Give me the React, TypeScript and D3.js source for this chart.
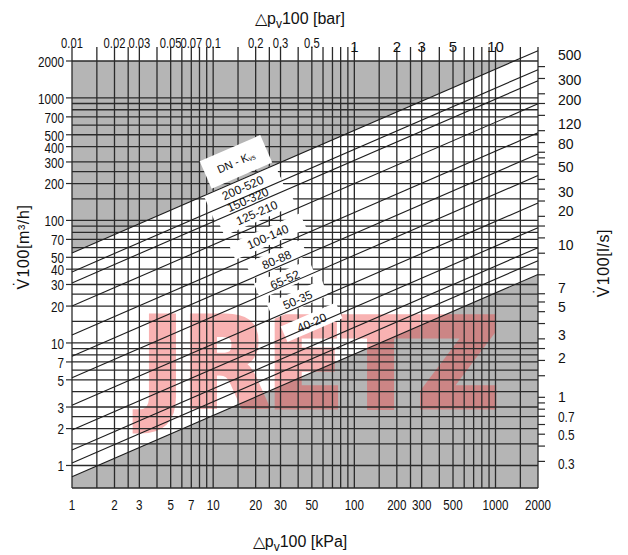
import React from "react";
import * as d3 from "d3";

const W = 628;
const H = 555;

// ---- data ----
// Kvs of the drawn characteristic lines (m³/h at Δp = 1 bar)
const kvsLines = [543, 380, 309, 200, 116, 78, 52, 31, 19.5, 13.4, 10.5, 8.1];
const upperLimitKvs = 543;
const lowerLimitKvs = 8.1;

const gridSteps = [1, 1.5, 2, 2.5, 3, 4, 5, 6, 7, 8, 9];
const xDecades = [1, 10, 100, 1000];
const yDecades = [1, 10, 100];
const yExtraGrid = [1000, 2000];

const kPaTicks = [1, 2, 3, 5, 7, 10, 20, 30, 50, 100, 200, 300, 500, 1000, 2000];
const barTicks = [0.01, 0.02, 0.03, 0.05, 0.07, 0.1, 0.2, 0.3, 0.5, 1, 2, 3, 5, 10];
const m3hTicks = [2000, 1000, 700, 500, 400, 300, 200, 100, 70, 50, 40, 30, 20, 10, 7, 5, 3, 2, 1];
const lsLabels = [500, 300, 200, 120, 80, 50, 30, 20, 10, 7, 5, 3, 2, 1, 0.7, 0.5, 0.3];
const lsTicks = [500, 400, 300, 250, 200, 150, 120, 100, 90, 80, 60, 50, 40, 30, 25, 20, 15, 10,
  7, 6, 5, 4, 3, 2.5, 2, 1.5, 1, 0.9, 0.8, 0.7, 0.6, 0.5, 0.4, 0.3];
// right label positions in the original drift from the ticks: anchor values
const lsLabelAnchors = [0.3, 7, 10, 500];

// curve labels, anchored in data space (kPa, m³/h)
const curveLabelText = ["200-520", "150-320", "125-210", "100-140", "80-88", "65-52", "50-35", "40-20"];
const curveLabelDp = [16.2, 17.6, 20.4, 24.4, 28.2, 32.2, 39.7, 50];
const curveLabelQ = [184, 147, 115, 73.3, 47.6, 32.7, 22.4, 14.6];
const headerDp = 14.5;
const headerQ = 300;

const flow = (kvs: number, dpKPa: number) => kvs * Math.sqrt(dpKPa / 100);

function NarrowText(props: {
  x: number;
  y: number;
  children: React.ReactNode;
  size: number;
  anchor?: "start" | "middle" | "end";
  squeeze?: number;
}) {
  const { x, y, children, size, anchor = "middle", squeeze = 0.8 } = props;
  return (
    <g transform={`translate(${x},${y}) scale(${squeeze},1)`}>
      <text x={0} y={0} textAnchor={anchor} dominantBaseline="central" fontSize={size} fill="#111">
        {children}
      </text>
    </g>
  );
}

function DotV({ size }: { size: number }) {
  // "V" with a dot above
  const vW = size * 0.667;
  const dW = size * 0.333;
  const start = vW / 2 - dW / 2;
  return (
    <>
      <tspan>V</tspan>
      <tspan dx={start - vW} dy={-size * 0.28}>˙</tspan>
      <tspan dx={vW - (start + dW)} dy={size * 0.28}>100</tspan>
    </>
  );
}

export default function App() {
  const x = d3.scaleLog().domain([1, 2000]).range([72, 538]);
  const y = d3.scaleLog().domain([0.655, 2000]).range([488, 61]);
  const yLs = (ls: number) => y(ls * 3.6);
  const yLsLabel = d3.scaleLog().domain(lsLabelAnchors).range([464, 288, 245, 55]);

  const x0 = x(1);
  const x1 = x(2000);
  const yBottom = y(0.655);
  const yTopBorder = y(2000);
  const yTopExt = yTopBorder - 14;

  const xGrid = xDecades.flatMap((d) => gridSteps.map((s) => s * d)).filter((v) => v <= 2000);
  const yGrid = yDecades.flatMap((d) => gridSteps.map((s) => s * d)).concat(yExtraGrid);

  const line = d3.line<[number, number]>();
  const dpEnds = [1, 2000];

  const angle = (Math.atan2(y(Math.sqrt(10)) - y(1), x(10) - x(1)) * 180) / Math.PI;

  // gray regions
  const dpCross = 100 * Math.pow(2000 / upperLimitKvs, 2);
  const upperGray = line([
    [x0, yTopBorder],
    [x0, y(flow(upperLimitKvs, 1))],
    [x(dpCross), yTopBorder],
  ]);
  const lowerGray = line([
    [x0, y(flow(lowerLimitKvs, 1))],
    [x1, y(flow(lowerLimitKvs, 2000))],
    [x1, yBottom],
    [x0, yBottom],
  ]);

  const stroke = "#2a2a2a";
  const sans = "'Liberation Sans', Arial, sans-serif";

  return (
    <svg
      width={W}
      height={H}
      viewBox={`0 0 ${W} ${H}`}
      style={{ position: "absolute", left: 0, top: 0, background: "#fff" }}
      fontFamily={sans}
    >
      <rect x={0} y={0} width={W} height={H} fill="#fff" />
      {/* gray regions */}
      <path d={upperGray ?? ""} fill="#b5b5b5" />
      <path d={lowerGray ?? ""} fill="#b5b5b5" />

      {/* watermark */}
      <g opacity={0.4}>
        <text
          x={142}
          y={406}
          fontSize={122}
          fontWeight="bold"
          fontFamily="'DejaVu Sans', sans-serif"
          textLength={356}
          lengthAdjust="spacingAndGlyphs"
          fill="#f04040"
          stroke="#f04040"
          strokeWidth={7}
          strokeLinejoin="miter"
        >
          JRETZ
        </text>
      </g>

      {/* vertical grid */}
      {xGrid.map((v) => (
        <line key={"vx" + v} x1={x(v)} x2={x(v)} y1={yTopExt} y2={yBottom} stroke={stroke} strokeWidth={1.3} />
      ))}
      {/* horizontal grid */}
      {yGrid.map((v) => (
        <line key={"hy" + v} x1={x0} x2={x1} y1={y(v)} y2={y(v)} stroke={stroke} strokeWidth={1.3} />
      ))}
      <line x1={x0} x2={x1} y1={yBottom} y2={yBottom} stroke={stroke} strokeWidth={1.3} />

      {/* left ticks */}
      {m3hTicks.map((v) => (
        <line key={"lt" + v} x1={x0 - 6} x2={x0} y1={y(v)} y2={y(v)} stroke={stroke} strokeWidth={1.2} />
      ))}
      {/* right ticks (l/s) */}
      {lsTicks.map((v) => (
        <line key={"rt" + v} x1={x1} x2={x1 + 7} y1={yLs(v)} y2={yLs(v)} stroke={stroke} strokeWidth={1.2} />
      ))}

      {/* white label boxes */}
      <g transform={`translate(${x(headerDp)},${y(headerQ)}) rotate(${angle})`}>
        <rect x={-33} y={-15} width={66} height={30} fill="#fff" />
      </g>
      {curveLabelText.map((t, i) => (
        <g key={"lb" + t} transform={`translate(${x(curveLabelDp[i])},${y(curveLabelQ[i])}) rotate(${angle})`}>
          <rect x={-t.length * 4.4 - 8} y={-9} width={t.length * 8.8 + 16} height={17} fill="#fff" />
        </g>
      ))}

      {/* Kvs lines */}
      {kvsLines.map((k) => (
        <path
          key={"k" + k}
          d={line(dpEnds.map((dp) => [x(dp), y(flow(k, dp))] as [number, number])) ?? ""}
          stroke="#1e1e1e"
          strokeWidth={1.1}
          fill="none"
        />
      ))}

      {/* curve labels */}
      <g transform={`translate(${x(headerDp)},${y(headerQ)}) rotate(${angle})`}>
        <text textAnchor="middle" dominantBaseline="central" fontSize={11} fill="#111">
          DN - K<tspan fontSize={7} dy={2}>vs</tspan>
        </text>
      </g>
      {curveLabelText.map((t, i) => (
        <g key={"lt" + t} transform={`translate(${x(curveLabelDp[i])},${y(curveLabelQ[i])}) rotate(${angle})`}>
          <text textAnchor="middle" dominantBaseline="central" fontSize={12} fill="#111">
            {t}
          </text>
        </g>
      ))}

      {/* axis labels */}
      {kPaTicks.map((v) => (
        <NarrowText key={"kb" + v} x={x(v)} y={505} size={14.5}>
          {v}
        </NarrowText>
      ))}
      {barTicks.map((v) =>
        v < 1 ? (
          <NarrowText key={"bt" + v} x={x(v * 100)} y={44} size={14}>
            {v}
          </NarrowText>
        ) : (
          <text key={"bt" + v} x={x(v * 100)} y={46} textAnchor="middle" dominantBaseline="central" fontSize={15} fill="#111">
            {v}
          </text>
        )
      )}
      {m3hTicks.map((v) => (
        <NarrowText key={"ml" + v} x={x0 - 8} y={y(v) + 1} size={14} anchor="end" squeeze={0.84}>
          {v}
        </NarrowText>
      ))}
      {lsLabels.map((v) =>
        v < 1 ? (
          <NarrowText key={"ll" + v} x={558} y={yLsLabel(v)} size={14} anchor="start" squeeze={0.85}>
            {v}
          </NarrowText>
        ) : (
          <text key={"ll" + v} x={558} y={yLsLabel(v)} dominantBaseline="central" fontSize={14} fill="#111">
            {v}
          </text>
        )
      )}

      {/* titles */}
      <text x={300} y={24} textAnchor="middle" fontSize={16} fill="#111">
        △p<tspan fontSize={12} dy={4}>v</tspan>
        <tspan dy={-4}>100 [bar]</tspan>
      </text>
      <text x={300} y={547} textAnchor="middle" fontSize={16} fill="#111">
        △p<tspan fontSize={12} dy={4}>v</tspan>
        <tspan dy={-4}>100 [kPa]</tspan>
      </text>
      <text transform="translate(29,247) rotate(-90)" textAnchor="middle" fontSize={16} fill="#111" letterSpacing={0.6}>
        <DotV size={16} />
        [m³/h]
      </text>
      <text transform="translate(609,263) rotate(-90)" textAnchor="middle" fontSize={16} fill="#111" letterSpacing={0.6}>
        <DotV size={16} />
        [l/s]
      </text>
    </svg>
  );
}
